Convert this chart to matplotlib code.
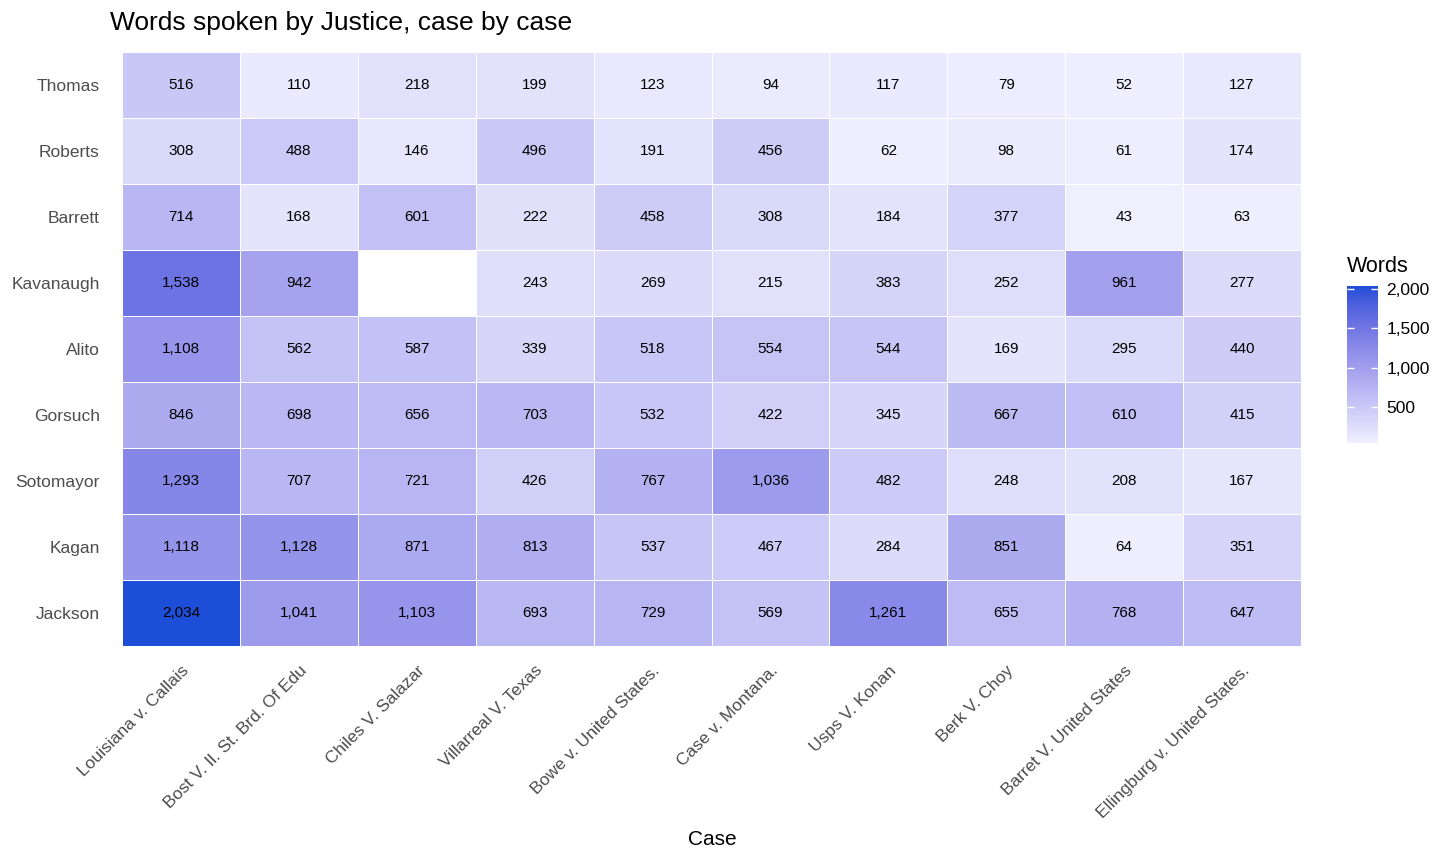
import numpy as np
import matplotlib
matplotlib.use("Agg")
import matplotlib.pyplot as plt
from matplotlib.colors import ListedColormap, to_rgb, Normalize

plt.rcParams['font.family'] = ['Liberation Sans', 'DejaVu Sans']

justices = ["Thomas", "Roberts", "Barrett", "Kavanaugh", "Alito", "Gorsuch",
            "Sotomayor", "Kagan", "Jackson"]
cases = ["Louisiana v. Callais", "Bost V. Il. St. Brd. Of Edu", "Chiles V. Salazar",
         "Villarreal V. Texas", "Bowe v. United States.", "Case v. Montana.",
         "Usps V. Konan", "Berk V. Choy", "Barret V. United States",
         "Ellingburg v. United States."]
nan = np.nan
thomas    = [516, 110, 218, 199, 123, 94, 117, 79, 52, 127]
roberts   = [308, 488, 146, 496, 191, 456, 62, 98, 61, 174]
barrett   = [714, 168, 601, 222, 458, 308, 184, 377, 43, 63]
kavanaugh = [1538, 942, nan, 243, 269, 215, 383, 252, 961, 277]
alito     = [1108, 562, 587, 339, 518, 554, 544, 169, 295, 440]
gorsuch   = [846, 698, 656, 703, 532, 422, 345, 667, 610, 415]
sotomayor = [1293, 707, 721, 426, 767, 1036, 482, 248, 208, 167]
kagan     = [1118, 1128, 871, 813, 537, 467, 284, 851, 64, 351]
jackson   = [2034, 1041, 1103, 693, 729, 569, 1261, 655, 768, 647]

data = np.array([thomas, roberts, barrett, kavanaugh, alito, gorsuch,
                 sotomayor, kagan, jackson], dtype=float)

# Lab-space gradient (like ggplot2 scale_fill_gradient)
def srgb_to_lab(rgb):
    rgb = np.asarray(rgb, dtype=float)
    lin = np.where(rgb <= 0.04045, rgb / 12.92, ((rgb + 0.055) / 1.055) ** 2.4)
    M = np.array([[0.4124, 0.3576, 0.1805],
                  [0.2126, 0.7152, 0.0722],
                  [0.0193, 0.1192, 0.9505]])
    xyz = lin @ M.T
    xyz = xyz / np.array([0.95047, 1.0, 1.08883])
    f = np.where(xyz > 0.008856, np.cbrt(xyz), 7.787 * xyz + 16 / 116)
    L = 116 * f[..., 1] - 16
    a = 500 * (f[..., 0] - f[..., 1])
    b = 200 * (f[..., 1] - f[..., 2])
    return np.stack([L, a, b], axis=-1)

def lab_to_srgb(lab):
    L, a, b = lab[..., 0], lab[..., 1], lab[..., 2]
    fy = (L + 16) / 116
    fx = fy + a / 500
    fz = fy - b / 200
    f = np.stack([fx, fy, fz], axis=-1)
    xyz = np.where(f ** 3 > 0.008856, f ** 3, (f - 16 / 116) / 7.787)
    xyz = xyz * np.array([0.95047, 1.0, 1.08883])
    Minv = np.array([[3.2406, -1.5372, -0.4986],
                     [-0.9689, 1.8758, 0.0415],
                     [0.0557, -0.2040, 1.0570]])
    lin = xyz @ Minv.T
    lin = np.clip(lin, 0, 1)
    rgb = np.where(lin <= 0.0031308, 12.92 * lin, 1.055 * lin ** (1 / 2.4) - 0.055)
    return np.clip(rgb, 0, 1)

low = srgb_to_lab(to_rgb("#EEF0FE"))
high = srgb_to_lab(to_rgb("#1C4ED8"))
t = np.linspace(0, 1, 256)[:, None]
cols = lab_to_srgb(low + (high - low) * t)
cmap = ListedColormap(cols)
cmap.set_bad("white")

vmin, vmax = np.nanmin(data), np.nanmax(data)
norm = Normalize(vmin=vmin, vmax=vmax)

fig = plt.figure(figsize=(14.56, 8.6), dpi=100)
ax = fig.add_axes([122 / 1456, 1 - 646 / 860, (1301 - 122) / 1456, (646 - 52) / 860])

nr, nc = data.shape
masked = np.ma.masked_invalid(data)
mesh = ax.pcolormesh(np.arange(nc + 1) - 0.5, np.arange(nr + 1) - 0.5, masked,
                     cmap=cmap, norm=norm, edgecolors="white", linewidth=0.7)
ax.set_xlim(-0.5, nc - 0.5)
ax.set_ylim(nr - 0.5, -0.5)

for i in range(nr):
    for j in range(nc):
        v = data[i, j]
        if not np.isnan(v):
            ax.text(j, i, f"{int(v):,}", ha="center", va="center",
                    fontsize=11, color="black")

ax.set_xticks(range(nc))
ax.set_xticklabels(cases, rotation=45, ha="right", va="top",
                   rotation_mode="anchor", fontsize=12.5, color="#4D4D4D")
ax.set_yticks(range(nr))
ax.set_yticklabels(justices, fontsize=12.5, color="#4D4D4D")
ax.tick_params(axis="both", length=0)
ax.tick_params(axis="y", pad=16)
ax.tick_params(axis="x", pad=12)
for s in ax.spines.values():
    s.set_visible(False)

fig.text(712 / 1456, 1 - 845 / 860, "Case", ha="center", va="baseline",
         fontsize=15, color="black")
fig.text(110 / 1456, 1 - 30 / 860, "Words spoken by Justice, case by case",
         ha="left", va="baseline", fontsize=19, color="black")

cax = fig.add_axes([1347 / 1456, 1 - 443 / 860, 31 / 1456, 157 / 860])
cb = fig.colorbar(mesh, cax=cax)
cb.outline.set_visible(False)
cb.set_ticks([500, 1000, 1500, 2000])
cb.set_ticklabels(["500", "1,000", "1,500", "2,000"])
cax.tick_params(axis="y", length=5, width=1, color="white", direction="in",
                labelsize=12.5, labelcolor="black", pad=6, left=True, right=True)
fig.text(1347 / 1456, 1 - 272 / 860, "Words", ha="left", va="baseline",
         fontsize=15.5, color="black")

fig.savefig("out.png", dpi=100)
